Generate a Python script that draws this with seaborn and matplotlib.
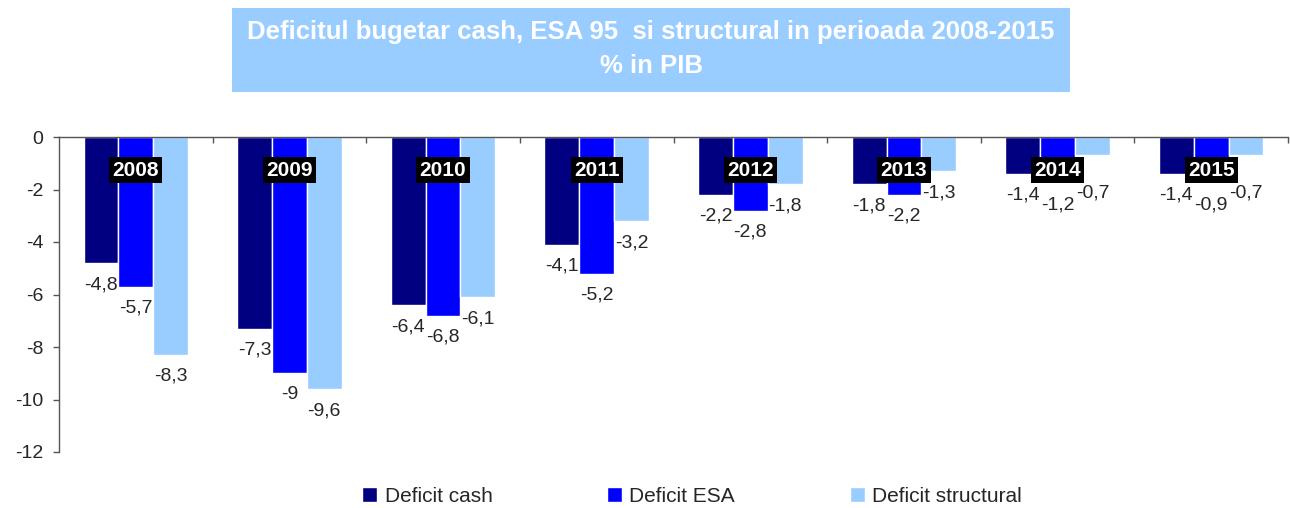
import matplotlib
matplotlib.use("Agg")
import matplotlib.pyplot as plt
from matplotlib.patches import Rectangle
import seaborn as sns
import pandas as pd

years = ["2008", "2009", "2010", "2011", "2012", "2013", "2014", "2015"]
deficit_cash = [-4.8, -7.3, -6.4, -4.1, -2.2, -1.8, -1.4, -1.4]
deficit_esa = [-5.7, -9.0, -6.8, -5.2, -2.8, -2.2, -1.2, -0.9]
deficit_struct = [-8.3, -9.6, -6.1, -3.2, -1.8, -1.3, -0.7, -0.7]
series_names = ["Deficit cash", "Deficit ESA", "Deficit structural"]
colors = ["#000080", "#0000FF", "#99CCFF"]

df = pd.DataFrame({
    "An": years * 3,
    "Serie": [s for s in series_names for _ in years],
    "Valoare": deficit_cash + deficit_esa + deficit_struct,
})

sns.set_style("white")
plt.rcParams["font.family"] = ["Liberation Sans", "DejaVu Sans"]
plt.rcParams["axes.unicode_minus"] = False

W, H = 1290, 508
fig = plt.figure(figsize=(W / 100, H / 100), dpi=100)
ax = fig.add_axes([59 / W, 1 - 452 / H, (1288 - 59) / W, (452 - 137) / H])

sns.barplot(data=df, x="An", y="Valoare", hue="Serie", palette=colors,
            saturation=1, width=0.68, gap=0, ax=ax, legend=True)

# value labels under each bar; pushed below the year boxes for short bars
for k, cont in enumerate(ax.containers):
    floor = -2.6 if k == 1 else -2.15
    for bar, v in zip(cont, cont.datavalues):
        x = bar.get_x() + bar.get_width() / 2
        y = min(v - 0.82, floor)
        ax.text(x, y, f"{v:g}".replace(".", ","), ha="center", va="center",
                fontsize=14)

# year boxes
for i, y in enumerate(years):
    ax.text(i, -1.26, y, ha="center", va="center", color="white",
            fontsize=15, fontweight="bold",
            bbox=dict(boxstyle="square,pad=0.16", fc="black", ec="none"))

ax.set_ylim(-12, 0)
ax.set_xlim(-0.5, 7.5)
ax.set_yticks(range(-12, 1, 2))
ax.tick_params(axis="y", labelsize=14, length=4.3, width=1, pad=7,
               direction="out", left=True, color="#555555")
ax.set_xticks([i + 0.5 for i in range(8)])
ax.set_xticklabels([])
ax.xaxis.tick_top()
ax.tick_params(axis="x", direction="in", length=4.3, width=1, top=True,
               bottom=False, color="#555555")
ax.set_xlabel("")
ax.set_ylabel("")
for s in ["right", "bottom"]:
    ax.spines[s].set_visible(False)
for s in ["left", "top"]:
    ax.spines[s].set_color("#555555")
    ax.spines[s].set_linewidth(1)

handles, labels = ax.get_legend_handles_labels()
ax.legend(handles, labels, loc="center", bbox_to_anchor=(692 / W, 1 - 496 / H),
          bbox_transform=fig.transFigure, ncol=3, frameon=False, fontsize=15,
          handlelength=0.72, handleheight=0.72, handletextpad=0.35,
          columnspacing=5.5)

# title box
fig.patches.append(Rectangle((232 / W, 1 - 92 / H), (1070 - 232) / W, 84 / H,
                             transform=fig.transFigure, fc="#99CCFF", ec="none"))
fig.text(651 / W, 1 - 32 / H, "Deficitul bugetar cash, ESA 95  si structural in perioada 2008-2015",
         ha="center", va="center", color="white", fontsize=18.5, fontweight="bold")
fig.text(651 / W, 1 - 66 / H, "% in PIB",
         ha="center", va="center", color="white", fontsize=18.5, fontweight="bold")

fig.savefig("out.png", dpi=100)
